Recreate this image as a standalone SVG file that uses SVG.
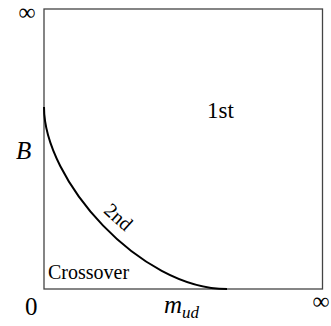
<svg xmlns="http://www.w3.org/2000/svg" width="331" height="326" viewBox="0 0 331 326">
<style>
text{font-family:"Liberation Serif","Times New Roman","DejaVu Serif",serif;fill:#000}
.i{font-style:italic}
</style>
<rect width="331" height="326" fill="#fff"/>
<g id="frame"><rect x="44" y="9" width="278.5" height="280" fill="none" stroke="#444" stroke-width="1.3"/></g>
<g id="connectors"><path id="boundary" d="M44,107 C44,180 140,289 227,289" fill="none" stroke="#000" stroke-width="2"/></g>
<g id="labels">
<text x="27" y="20" font-size="24" text-anchor="middle">∞</text>
<text x="321" y="309" font-size="24" text-anchor="middle">∞</text>
<text x="207" y="118" font-size="23">1st</text>
<text class="i" x="16" y="159" font-size="25">B</text>
<text x="0" y="0" font-size="20" text-anchor="middle" transform="translate(114,222) rotate(42)">2nd</text>
<text x="48" y="279" font-size="20">Crossover</text>
<text x="25" y="315" font-size="25">0</text>
<text class="i" x="164" y="313" font-size="25">m<tspan font-size="17" dy="5">ud</tspan></text>
</g>
</svg>
